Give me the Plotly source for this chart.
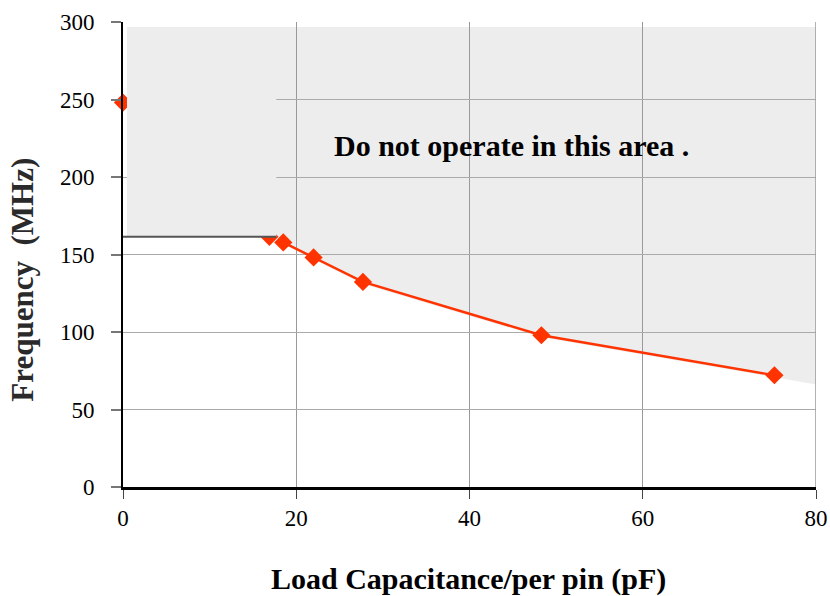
import plotly.graph_objects as go

# ---- data ----
cap_pf = [0.0, 16.9, 18.5, 22.0, 27.7, 48.3, 75.2]          # load capacitance (pF)
freq_mhz = [248.0, 161.4, 157.8, 148.1, 132.3, 97.9, 72.1]   # frequency (MHz)
limit_cap = 17.7      # end of the horizontal limit line (pF)
limit_freq = 161.5    # horizontal limit line (MHz)
zone_top = 296.8      # top of the "do not operate" zone (MHz)
zone_left = 0.46      # left edge of the zone (pF)
zone_right = 80.15    # right edge of the zone (pF)
x_ticks = [0, 20, 40, 60, 80]
y_ticks = [0, 50, 100, 150, 200, 250, 300]
zone_label = "Do not operate in this area ."
x_title = "Load Capacitance/per pin (pF)"
y_title = "Frequency\u00a0\u00a0(MHz)"

RED = "#ff3300"
ZONE = "#ededed"
SERIF = "Liberation Serif, Times New Roman, serif"
shadow = 1.3  # small grey shadow below the curve (MHz)

# extrapolate last segment to the zone's right edge
slope = (freq_mhz[-1] - freq_mhz[-2]) / (cap_pf[-1] - cap_pf[-2])
y_right = freq_mhz[-1] + slope * (zone_right - cap_pf[-1])

# main zone polygon (drawn below gridlines)
pts = [(zone_left, zone_top), (zone_right, zone_top), (zone_right, y_right - shadow)]
for xv, yv in zip(reversed(cap_pf[2:]), reversed(freq_mhz[2:])):
    pts.append((xv, yv - shadow))
pts += [(limit_cap, limit_freq), (zone_left, limit_freq)]
path = "M " + " L ".join(f"{px},{py}" for px, py in pts) + " Z"

fig = go.Figure()

# markers that are partly hidden by the zone block
fig.add_trace(go.Scatter(
    x=cap_pf[:2], y=freq_mhz[:2], mode="markers",
    marker=dict(symbol="diamond", size=14, color=RED),
    cliponaxis=False, showlegend=False, hoverinfo="skip"))

# left block of the zone (covers gridlines and the first markers)
fig.add_trace(go.Scatter(
    x=[zone_left, limit_cap, limit_cap, zone_left, zone_left],
    y=[limit_freq, limit_freq, zone_top, zone_top, limit_freq],
    mode="lines", fill="toself", fillcolor=ZONE,
    line=dict(width=0, color=ZONE), showlegend=False, hoverinfo="skip"))

# horizontal limit line
fig.add_trace(go.Scatter(
    x=[0, limit_cap], y=[limit_freq, limit_freq], mode="lines",
    line=dict(color="#555555", width=2), showlegend=False, hoverinfo="skip"))

# main curve
fig.add_trace(go.Scatter(
    x=cap_pf[2:], y=freq_mhz[2:], mode="lines+markers",
    line=dict(color=RED, width=2.4),
    marker=dict(symbol="diamond", size=14, color=RED),
    showlegend=False))

fig.add_shape(type="path", path=path, xref="x", yref="y",
              fillcolor=ZONE, line=dict(width=0), layer="below")
# right frame line at the last x tick (grey, like the gridlines)
fig.add_shape(type="line", xref="x", yref="y",
              x0=x_ticks[-1], x1=x_ticks[-1], y0=y_ticks[0], y1=y_ticks[-1],
              line=dict(color="#999999", width=1.5), layer="between")

fig.add_annotation(x=24.1, y=220.5, xref="x", yref="y", text=zone_label,
                   showarrow=False, xanchor="left", yanchor="middle",
                   font=dict(family=SERIF, size=30, color="#000000", weight="bold"))
fig.add_annotation(x=(469 - 123.3) / 692.4, y=-0.198, xref="paper", yref="paper",
                   text=x_title, showarrow=False, xanchor="center", yanchor="middle",
                   font=dict(family=SERIF, size=30, color="#000000", weight="bold"))
fig.add_annotation(x=-0.145, y=(486.7 - 280) / 464.7, xref="paper", yref="paper",
                   text=y_title, showarrow=False, textangle=-90,
                   xanchor="center", yanchor="middle",
                   font=dict(family=SERIF, size=31, color="#2a2a2a", weight="bold"))

fig.update_layout(
    width=830, height=596,
    margin=dict(l=123, r=14, t=22, b=109, autoexpand=False),
    paper_bgcolor="white", plot_bgcolor="white",
    xaxis=dict(range=[0, 80], tickvals=x_ticks, showgrid=True, gridcolor="#999999",
               gridwidth=1, zeroline=False, showline=True, linecolor="black",
               linewidth=2.5, ticks="outside", ticklen=9, tickcolor="#444444",
               tickwidth=1, ticklabelstandoff=0, automargin=False,
               tickfont=dict(family=SERIF, size=23, color="#000000")),
    yaxis=dict(range=[0, 300], tickvals=y_ticks, showgrid=True, gridcolor="#aaaaaa",
               gridwidth=1.3, zeroline=False, showline=True, linecolor="black",
               linewidth=2, ticks="outside", ticklen=10, tickcolor="#777777",
               tickwidth=1.5, ticklabelstandoff=12, automargin=False,
               tickfont=dict(family=SERIF, size=23, color="#000000")),
)

fig.write_html("out.html", config={"displayModeBar": False},
               post_script="document.body.style.margin='0';document.body.style.overflow='hidden';")
